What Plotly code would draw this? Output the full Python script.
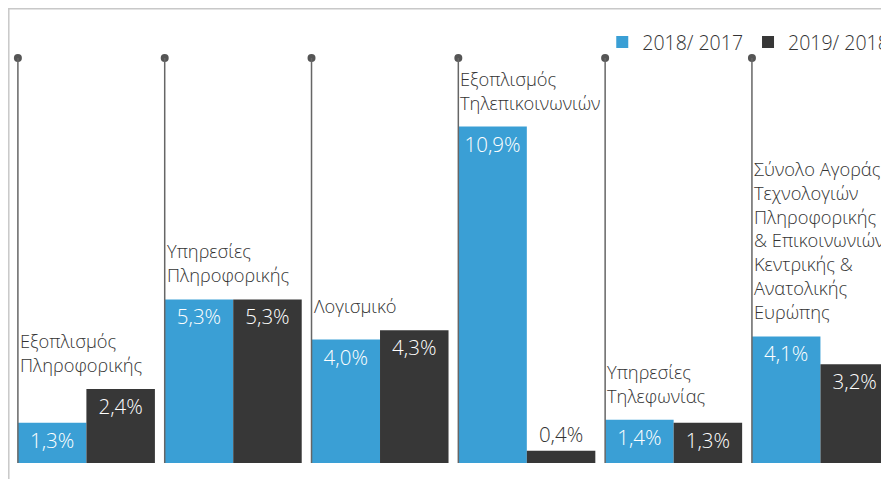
import plotly.graph_objects as go

categories = ["Εξοπλισμός Πληροφορικής", "Υπηρεσίες Πληροφορικής", "Λογισμικό",
              "Εξοπλισμός Τηλεπικοινωνιών", "Υπηρεσίες Τηλεφωνίας",
              "Σύνολο Αγοράς Τεχνολογιών Πληροφορικής & Επικοινωνιών Κεντρικής & Ανατολικής Ευρώπης"]
category_lines = [
    ["Εξοπλισμός", "Πληροφορικής"],
    ["Υπηρεσίες", "Πληροφορικής"],
    ["Λογισμικό"],
    ["Εξοπλισμός", "Τηλεπικοινωνιών"],
    ["Υπηρεσίες", "Τηλεφωνίας"],
    ["Σύνολο Αγοράς", "Τεχνολογιών", "Πληροφορικής", "& Επικοινωνιών", "Κεντρικής &", "Ανατολικής", "Ευρώπης"],
]
series_names = ["2018/ 2017", "2019/ 2018"]
values_2018 = [1.3, 5.3, 4.0, 10.9, 1.4, 4.1]
values_2019 = [2.4, 5.3, 4.3, 0.4, 1.3, 3.2]

BLUE = "#3a9fd5"
DARK = "#373737"
FONT = "Open Sans"

def fmt(v):
    return f"{v:.1f}".replace(".", ",") + "%"

fig = go.Figure()
for name, vals, col in [(series_names[0], values_2018, BLUE), (series_names[1], values_2019, DARK)]:
    fig.add_trace(go.Bar(
        x=categories, y=vals, name=name, marker=dict(color=col, line=dict(width=0)),
        text=[fmt(v) for v in vals],
        textposition=["inside" if v > 1 else "outside" for v in vals],
        insidetextanchor="end",
        insidetextfont=dict(color="white", size=20.5, family=FONT, weight=300),
        outsidetextfont=dict(color="#333333", size=20.5, family=FONT, weight=300),
        constraintext="none", cliponaxis=False,
    ))

# decorative stems with dots at each group's left edge
stem_top = 13.12
off = -0.4666
shapes = []
for i in range(len(categories)):
    shapes.append(dict(type="line", xref="x", yref="y", x0=i + off, x1=i + off, y0=0, y1=stem_top,
                       line=dict(color="#666666", width=1.5), layer="above"))
fig.add_trace(go.Scatter(x=[i + off for i in range(len(categories))], y=[stem_top] * len(categories),
                         mode="markers", marker=dict(color="#555555", size=8), showlegend=False,
                         hoverinfo="skip", cliponaxis=False, xaxis="x2"))

# frame lines (top and left)
shapes.append(dict(type="line", xref="paper", yref="paper", x0=-0.0057, x1=1.01, y0=0.9985, y1=0.9985,
                   line=dict(color="#c8c8c8", width=1.5)))
shapes.append(dict(type="line", xref="paper", yref="paper", x0=-0.0048, x1=-0.0048, y0=0.9985, y1=-0.04,
                   line=dict(color="#c8c8c8", width=1.5)))

annotations = []
for i, lines in enumerate(category_lines):
    top = max(values_2018[i], values_2019[i])
    annotations.append(dict(x=i + off, y=top, xref="x", yref="y", xanchor="left", yanchor="bottom",
                            text="<br>".join(lines), showarrow=False, align="left", xshift=0, yshift=10,
                            font=dict(size=18.3, color="#333333", family=FONT, weight=300)))

fig.update_layout(
    width=881, height=471,
    margin=dict(l=5, r=0, t=0, b=16, autoexpand=False),
    barmode="group", bargap=0.0667, bargroupgap=0,
    plot_bgcolor="white", paper_bgcolor="white",
    xaxis=dict(range=[-0.5, 5.467], showticklabels=False, showgrid=False, zeroline=False, showline=False,
               type="category"),
    xaxis2=dict(range=[-0.5, 5.467], overlaying="x", visible=False),
    yaxis=dict(range=[0, 14.74], visible=False, showgrid=False, zeroline=False),
    shapes=shapes, annotations=annotations,
    legend=dict(orientation="h", x=1.006, xanchor="right", y=0.9245, yanchor="middle",
                font=dict(size=19.5, color="#333333", family=FONT, weight=300), bgcolor="rgba(0,0,0,0)",
                traceorder="normal"),
    showlegend=True, uniformtext=dict(mode=False),
)
fig.write_html("out.html")
